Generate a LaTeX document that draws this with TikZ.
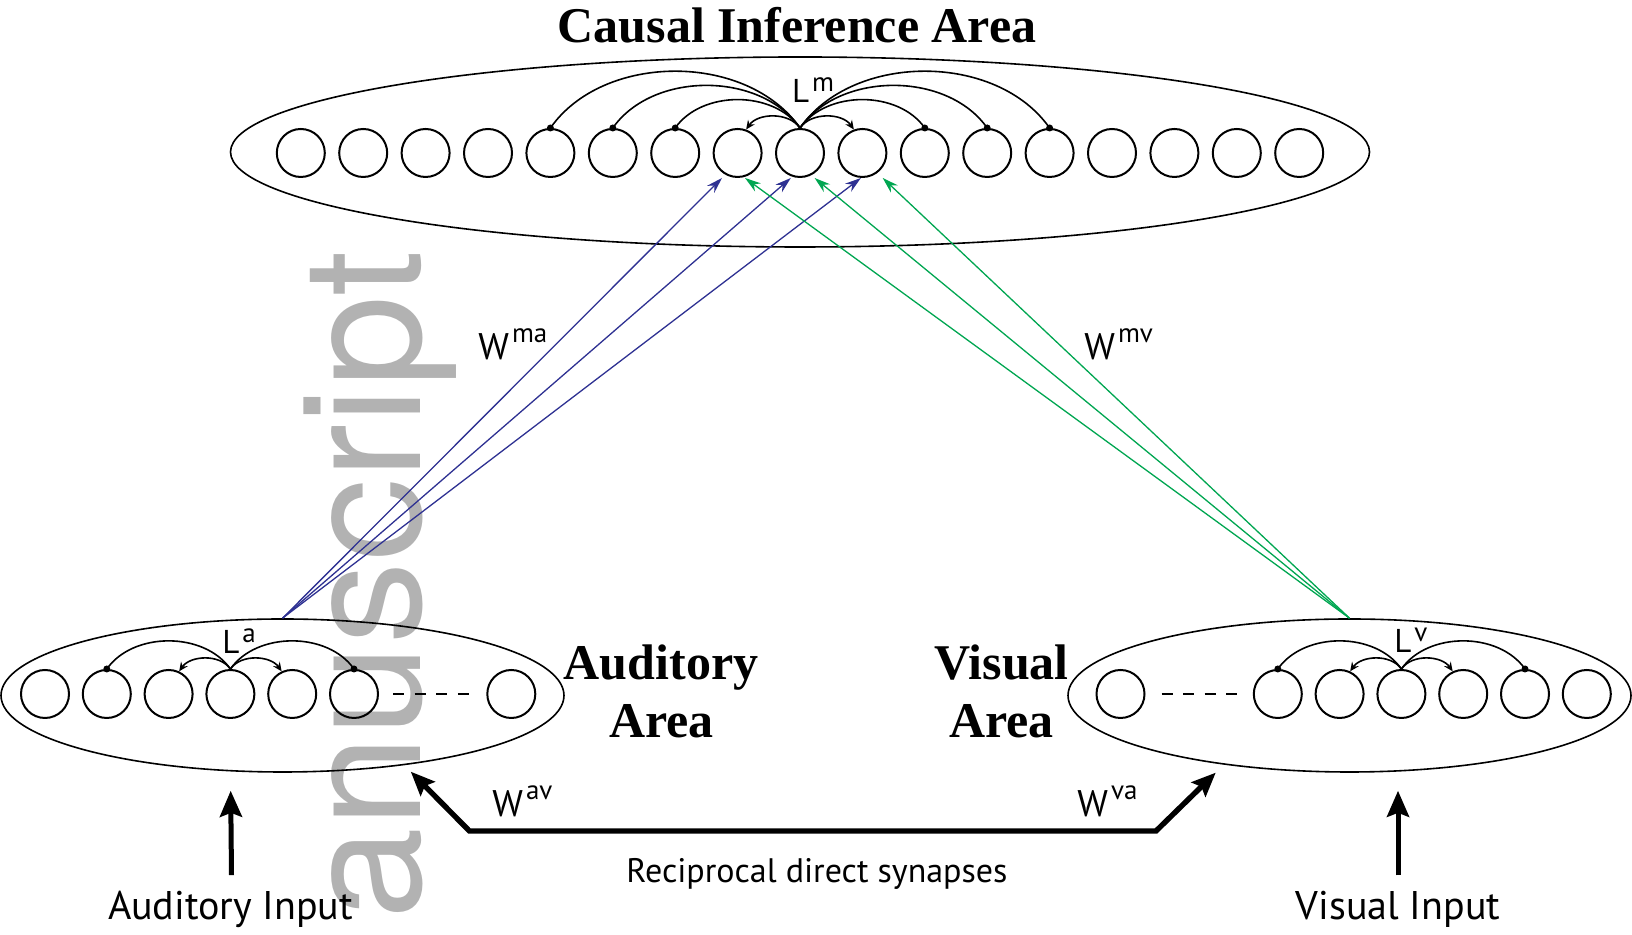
\documentclass[tikz,border=0pt]{standalone}
\usepackage{fontspec}
\setmainfont{Liberation Serif}
\setsansfont{PT Sans}
\newfontfamily\wmfont{TeX Gyre Heros}
\usetikzlibrary{shapes.geometric, arrows.meta, calc}
\definecolor{mablue}{RGB}{46,49,146}
\definecolor{mvgreen}{RGB}{0,166,81}
\definecolor{wmgray}{RGB}{178,178,178}
% letter with a raised index, e.g. W^{ma}
\newcommand{\suplab}[3]{#1\hspace{1.5pt}\raisebox{#3}{\fontsize{13.5}{13.5}\selectfont #2}}

\begin{document}
\begin{tikzpicture}[x=0.5pt, y=0.5pt, >=Stealth,
    neuron/.style={circle, draw, line width=1pt, minimum size=24pt, inner sep=0pt},
    area/.style={ellipse, draw, line width=0.8pt, inner sep=0pt},
    lat/.style={line width=0.8pt, looseness=0.95},
    latarr/.style={line width=0.8pt, looseness=0.95, -{Stealth[length=4.5pt, width=4pt]}},
    wma/.style={mablue, line width=0.65pt, -{Stealth[length=8pt, width=5pt]}},
    wmv/.style={mvgreen, line width=0.65pt, -{Stealth[length=8pt, width=5pt]}},
    inarr/.style={line width=2.5pt, -{Stealth[length=13pt, width=11pt, inset=2pt]}},
    recipline/.style={line width=2.7pt,
        {Stealth[length=12pt, width=10pt, inset=2pt]}-{Stealth[length=12pt, width=10pt, inset=2pt]}},
    ttl/.style={font=\bfseries\fontsize{25}{25}\selectfont, inner sep=0pt},
    wlbl/.style={font=\sffamily\fontsize{18.5}{18.5}\selectfont, inner sep=0pt, anchor=base west},
    llbl/.style={font=\sffamily\fontsize{16.5}{16.5}\selectfont, inner sep=0pt, anchor=base west},
    intxt/.style={font=\sffamily\fontsize{20}{20}\selectfont, inner sep=0pt, anchor=base},
    wm/.style={text=wmgray, font=\wmfont\fontsize{82.5}{82.5}\selectfont, inner sep=0pt}]
    \useasboundingbox (0,0) rectangle (1632,935);

    % watermark behind everything
    \node[wm, rotate=90, anchor=base west] (wmark) at (420,15) {anuscript};

    % Multisensory layer
    \node[area, minimum width=569.5pt, minimum height=95pt] (cia) at (800,783) {};
    \foreach \i in {1,...,17} {
        \node[neuron] (m\i) at ({800+(\i-9)*62.4},782) {};
    }
    \node[ttl, anchor=base] (ciatxt) at (797,892) {Causal Inference Area};
    \node[llbl] (lm) at (791.6,832) {\suplab{L}{m}{5.5pt}};
    % lateral synapses: excitation to the neighbours, inhibition further away
    \draw[latarr] (m9.north) to[out=125, in=55] (m8.70);
    \draw[latarr] (m9.north) to[out=55, in=125] (m10.110);
    \foreach \j in {5,6,7} {
        \draw[lat] (m9.north) to[out=125, in=55] (m\j.north);
        \fill (m\j.north) circle (1.75pt);
    }
    \foreach \j in {11,12,13} {
        \draw[lat] (m9.north) to[out=55, in=125] (m\j.north);
        \fill (m\j.north) circle (1.75pt);
    }

    % Auditory layer
    \node[area, minimum width=281.5pt, minimum height=76.5pt] (aud) at (282.5,239.5) {};
    \foreach \i/\x in {1/45, 2/106.8, 3/168.6, 4/230.4, 5/292.2, 6/354, 7/511.3} {
        \node[neuron] (a\i) at (\x,241) {};
    }
    \draw[dashed, line width=0.8pt, dash pattern=on 5.5pt off 5.3pt,
        shorten <=7pt, shorten >=7.5pt] (a6) -- (a7);
    \node[llbl] (la) at (222,281) {\suplab{L}{a}{5.5pt}};
    \draw[latarr] (a4.north) to[out=125, in=55] (a3.65);
    \draw[latarr] (a4.north) to[out=55, in=125] (a5.115);
    \draw[lat] (a4.north) to[out=125, in=55] (a2.north);
    \draw[lat] (a4.north) to[out=55, in=125] (a6.north);
    \fill (a2.north) circle (1.75pt);
    \fill (a6.north) circle (1.75pt);
    \node[ttl, anchor=base] (audtxt) at (661,255) {Auditory};
    \node[ttl, anchor=base] (audtxt2) at (661.5,197) {Area};

    % Visual layer
    \node[area, minimum width=281.5pt, minimum height=76.5pt] (vis) at (1349.5,239.5) {};
    \foreach \i/\x in {1/1120.5, 2/1277.8, 3/1339.6, 4/1401.4, 5/1463.2, 6/1525, 7/1586.8} {
        \node[neuron] (v\i) at (\x,241) {};
    }
    \draw[dashed, line width=0.8pt, dash pattern=on 5.5pt off 5.3pt,
        shorten <=8pt, shorten >=6.5pt] (v1) -- (v2);
    \node[llbl] (lv) at (1394,282) {\suplab{L}{v}{5.5pt}};
    \draw[latarr] (v4.north) to[out=125, in=55] (v3.65);
    \draw[latarr] (v4.north) to[out=55, in=125] (v5.115);
    \draw[lat] (v4.north) to[out=125, in=55] (v2.north);
    \draw[lat] (v4.north) to[out=55, in=125] (v6.north);
    \fill (v2.north) circle (1.75pt);
    \fill (v6.north) circle (1.75pt);
    \node[ttl, anchor=base] (vistxt) at (1001.6,255) {Visual};
    \node[ttl, anchor=base] (vistxt2) at (1001.6,197) {Area};

    % Feedforward synapses to the multisensory layer
    \foreach \n/\dx in {8/-15.6, 9/-9.2, 10/-1.5} {
        \draw[wma] (aud.north) -- ($(m\n.south)+(\dx,0)$);
    }
    \foreach \n/\dx in {8/7.4, 9/14.6, 10/20.3} {
        \draw[wmv] (vis.north) -- ($(m\n.south)+(\dx,0)$);
    }
    \node[wlbl] (wma) at (478,575) {\suplab{W}{ma}{8.5pt}};
    \node[wlbl] (wmv) at (1084,575) {\suplab{W}{mv}{8.5pt}};

    % Cross-modal synapses
    \coordinate (avtip) at (410.8,163.3);
    \coordinate (avbend) at (469.4,104);
    \coordinate (vabend) at (1156,104);
    \coordinate (vatip) at (1215.7,162.3);
    \draw[recipline] (avtip) -- (avbend) -- (vabend) -- (vatip);
    \node[wlbl] (wav) at (492,118.3) {\suplab{W}{av}{8.5pt}};
    \node[wlbl] (wva) at (1077,118.3) {\suplab{W}{va}{8.5pt}};
    \node[intxt, font=\sffamily\fontsize{17}{17}\selectfont] (recip) at (817,52) {Reciprocal direct synapses};

    % External inputs
    \node[intxt] (audin) at (230.5,15) {Auditory Input};
    \node[intxt] (visin) at (1398,15) {Visual Input};
    \draw[inarr, shorten >=9pt] (audin.north) ++(1,16) -- (audin.north |- aud.south);
    \draw[inarr, shorten >=9pt] (visin.north) ++(0,16) -- (visin.north |- vis.south);
\end{tikzpicture}
\end{document}
